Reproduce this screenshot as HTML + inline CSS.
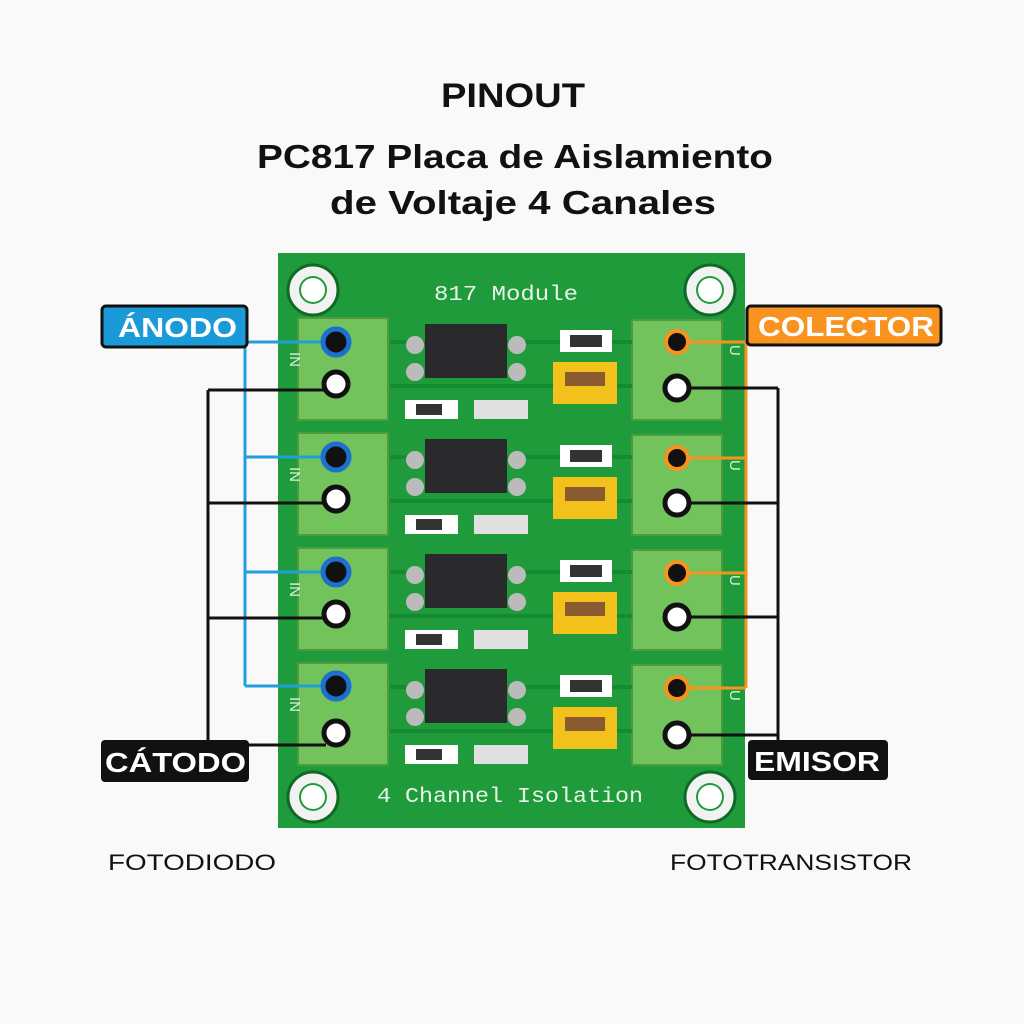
<!DOCTYPE html>
<html><head><meta charset="utf-8"><style>
html,body{margin:0;padding:0;background:#f9f9f9;}
svg{display:block}
</style></head><body>
<svg width="1024" height="1024" viewBox="0 0 1024 1024" xmlns="http://www.w3.org/2000/svg" font-family="Liberation Sans, sans-serif">
<rect width="1024" height="1024" fill="#f9f9f9"/>
<text x="441" y="107" textLength="144" lengthAdjust="spacingAndGlyphs" font-size="34" font-weight="bold" fill="#111">PINOUT</text>
<text x="257" y="168" textLength="516" lengthAdjust="spacingAndGlyphs" font-size="33" font-weight="bold" fill="#111">PC817 Placa de Aislamiento</text>
<text x="330" y="214" textLength="386" lengthAdjust="spacingAndGlyphs" font-size="33" font-weight="bold" fill="#111">de Voltaje 4 Canales</text>

<rect x="278" y="253" width="467" height="575" fill="#1f9b3c"/>
<g fill="#f2f2f2" stroke="#0f6a25" stroke-width="3">
<circle cx="313" cy="290" r="25"/><circle cx="710" cy="290" r="25"/>
<circle cx="313" cy="797" r="25"/><circle cx="710" cy="797" r="25"/>
</g>
<g fill="#1f9b3c"><circle cx="313" cy="290" r="14"/><circle cx="710" cy="290" r="14"/><circle cx="313" cy="797" r="14"/><circle cx="710" cy="797" r="14"/></g>
<g fill="#fff"><circle cx="313" cy="290" r="12"/><circle cx="710" cy="290" r="12"/><circle cx="313" cy="797" r="12"/><circle cx="710" cy="797" r="12"/></g>
<text x="434" y="300" textLength="144" lengthAdjust="spacingAndGlyphs" font-family="Liberation Mono, monospace" font-size="21" fill="#e8f5e8">817 Module</text>
<text x="377" y="802" textLength="266" lengthAdjust="spacingAndGlyphs" font-family="Liberation Mono, monospace" font-size="21" fill="#e8f5e8">4 Channel Isolation</text>

<defs>
<g id="row">
 <rect x="298" y="318" width="90" height="102" fill="#72c35c" stroke="#4e9a3f" stroke-width="2"/>
 <rect x="632" y="320" width="90" height="100" fill="#72c35c" stroke="#4e9a3f" stroke-width="2"/>
 <line x1="390" y1="342" x2="632" y2="342" stroke="#168a32" stroke-width="4"/>
 <line x1="390" y1="386" x2="632" y2="386" stroke="#168a32" stroke-width="4"/>
 <circle cx="415" cy="345" r="9" fill="#bbb"/><circle cx="415" cy="372" r="9" fill="#bbb"/>
 <circle cx="517" cy="345" r="9" fill="#bbb"/><circle cx="517" cy="372" r="9" fill="#bbb"/>
 <rect x="425" y="324" width="82" height="54" fill="#2a2a2c"/>
 <rect x="560" y="330" width="52" height="22" fill="#fff"/><rect x="570" y="335" width="32" height="12" fill="#333"/>
 <rect x="553" y="362" width="64" height="42" fill="#f2c11c"/><rect x="565" y="372" width="40" height="14" fill="#8a5a30"/>
 <rect x="405" y="400" width="53" height="19" fill="#fff"/><rect x="416" y="404" width="26" height="11" fill="#333"/>
 <rect x="474" y="400" width="54" height="19" fill="#e0e0e0"/>
 <text x="290" y="352" font-size="15" fill="#d9f0d9" transform="rotate(90 290 352)">IN</text>
 <text x="730" y="345" font-size="15" fill="#d9f0d9" transform="rotate(90 730 345)">U</text>
</g>
</defs>
<use href="#row"/>
<use href="#row" y="115"/>
<use href="#row" y="230"/>
<use href="#row" y="345"/>

<g fill="none" stroke-width="3">
<path d="M245 342 V686 M245 342 H326 M245 457 H326 M245 572 H326 M245 686 H326" stroke="#1fa0dc"/>
<path d="M208 390 V745 M208 390 H326 M208 503 H326 M208 618 H326 M208 745 H326" stroke="#111"/>
<path d="M746 342 V688 M686 342 H746 M686 458 H746 M686 573 H746 M686 688 H746" stroke="#f7931e"/>
<path d="M778 388 V745 M686 388 H778 M686 503 H778 M686 617 H778 M686 735 H778" stroke="#111"/>
</g>
<g>
<g fill="#111" stroke="#1d6fd0" stroke-width="5">
<circle cx="336" cy="342" r="13"/><circle cx="336" cy="457" r="13"/><circle cx="336" cy="572" r="13"/><circle cx="336" cy="686" r="13"/></g>
<g fill="#fff" stroke="#111" stroke-width="5">
<circle cx="336" cy="384" r="12"/><circle cx="336" cy="499" r="12"/><circle cx="336" cy="614" r="12"/><circle cx="336" cy="733" r="12"/></g>
<g fill="#111" stroke="#f7931e" stroke-width="4">
<circle cx="677" cy="342" r="11"/><circle cx="677" cy="458" r="11"/><circle cx="677" cy="573" r="11"/><circle cx="677" cy="688" r="11"/></g>
<g fill="#fff" stroke="#111" stroke-width="5">
<circle cx="677" cy="388" r="12"/><circle cx="677" cy="503" r="12"/><circle cx="677" cy="617" r="12"/><circle cx="677" cy="735" r="12"/></g>
</g>

<rect x="102" y="306" width="145" height="41" rx="4" fill="#1a9ad6" stroke="#111" stroke-width="3"/>
<text x="118" y="337" textLength="119" lengthAdjust="spacingAndGlyphs" font-size="28" font-weight="bold" fill="#fff">ÁNODO</text>
<rect x="747" y="306" width="194" height="39" rx="4" fill="#f7931e" stroke="#111" stroke-width="3"/>
<text x="758" y="336" textLength="176" lengthAdjust="spacingAndGlyphs" font-size="28" font-weight="bold" fill="#fff">COLECTOR</text>
<rect x="101" y="740" width="148" height="42" rx="4" fill="#111"/>
<text x="105" y="772" textLength="141" lengthAdjust="spacingAndGlyphs" font-size="28" font-weight="bold" fill="#fff">CÁTODO</text>
<rect x="748" y="740" width="140" height="40" rx="4" fill="#111"/>
<text x="754" y="771" textLength="126" lengthAdjust="spacingAndGlyphs" font-size="28" font-weight="bold" fill="#fff">EMISOR</text>

<text x="108" y="870" textLength="168" lengthAdjust="spacingAndGlyphs" font-size="22" fill="#111">FOTODIODO</text>
<text x="670" y="870" textLength="242" lengthAdjust="spacingAndGlyphs" font-size="22" fill="#111">FOTOTRANSISTOR</text>
</svg>
</body></html>
